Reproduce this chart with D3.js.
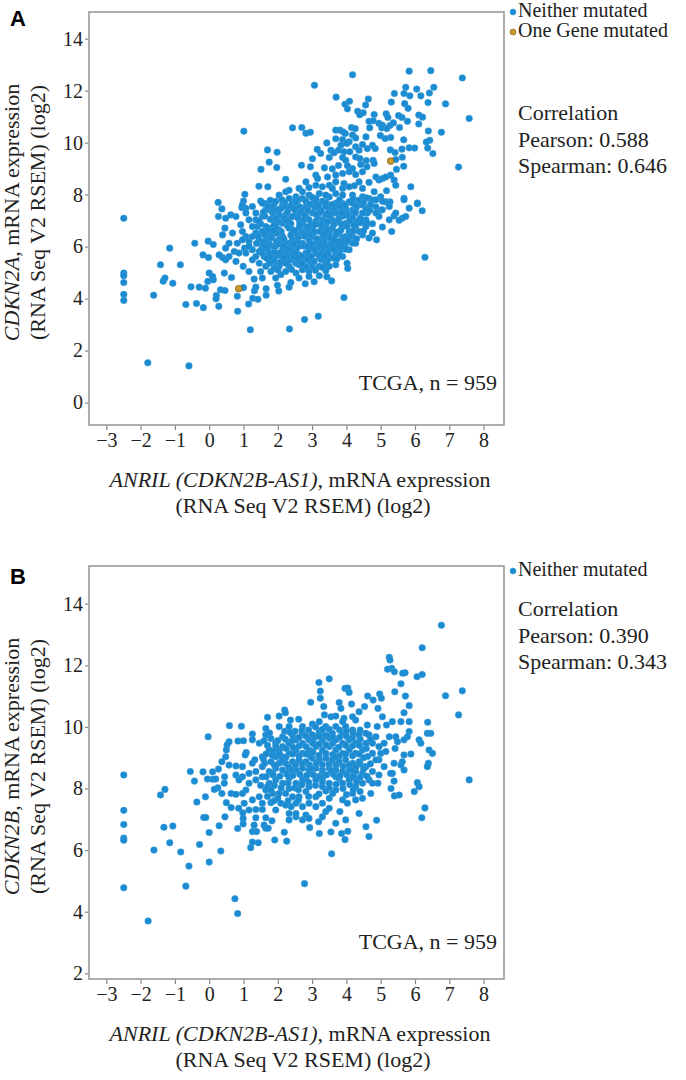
<!DOCTYPE html>
<html>
<head>
<meta charset="utf-8">
<script src="https://cdn.jsdelivr.net/npm/d3@7"></script>
<style>
  body { margin: 0; background: #fff; }
  svg { display: block; }
  .axis text { font-family: "Liberation Serif", Tinos, "Times New Roman", Times, "DejaVu Serif", serif; font-size: 20px; fill: #222; }
  .axis line { stroke: #888; stroke-width: 1.2; }
  .lbl { font-family: "Liberation Serif", Tinos, "Times New Roman", Times, "DejaVu Serif", serif; font-size: 22px; fill: #222; }
  .legend-lbl { font-size: 20px; }
  .panel-letter { font-family: "Liberation Sans", Arial, sans-serif; font-weight: bold; font-size: 22px; fill: #000; }
</style>
</head>
<body>
<div id="chart"></div>
<script>
// tick values
var xTicks = [-3, -2, -1, 0, 1, 2, 3, 4, 5, 6, 7, 8];
var yTicksA = [0, 2, 4, 6, 8, 10, 12, 14];
var yTicksB = [2, 4, 6, 8, 10, 12, 14];

// panel A: ANRIL (x) vs CDKN2A (y)
var neitherA = [
  [5.83,12.75],[6.46,12.77],[4.18,12.61],[7.38,12.49],[3.07,12.21],[5.73,12.13],[6.05,12.06],[6.55,12.13],[5.40,11.89],[5.68,11.89],
  [5.85,11.80],[6.17,11.80],[6.42,11.91],[3.70,11.75],[4.64,11.68],[5.31,11.56],[5.70,11.50],[6.38,11.54],[6.89,11.49],[3.96,11.48],
  [4.09,11.59],[4.56,11.45],[4.03,11.30],[5.80,11.32],[4.33,11.21],[4.39,11.07],[4.49,11.15],[5.16,11.11],[4.81,11.08],[5.21,10.97],
  [5.52,11.04],[5.62,10.97],[6.11,11.06],[6.22,10.98],[7.58,10.93],[4.66,10.82],[4.78,10.84],[4.95,10.74],[5.05,10.67],[5.27,10.66],
  [5.37,10.76],[5.78,10.82],[6.11,10.72],[1.01,10.44],[2.43,10.57],[2.70,10.58],[2.82,10.36],[2.95,10.40],[3.69,10.48],[3.81,10.48],
  [4.15,10.58],[4.26,10.54],[3.91,10.41],[3.97,10.35],[4.18,10.29],[4.27,10.18],[4.57,10.22],[4.68,10.57],[5.03,10.57],[5.18,10.54],
  [4.99,10.27],[5.13,10.16],[5.29,10.20],[5.55,10.58],[6.39,10.45],[6.77,10.40],[3.69,10.15],[3.89,10.12],[4.08,10.03],[3.43,9.99],
  [5.67,10.11],[6.43,10.09],[6.33,10.02],[3.84,9.90],[4.01,9.97],[4.27,9.84],[4.47,9.93],[4.76,9.90],[4.84,9.77],[4.61,9.77],
  [3.15,9.74],[3.25,9.58],[3.55,9.71],[3.77,9.71],[3.64,9.61],[3.93,9.65],[4.10,9.65],[4.37,9.71],[5.28,9.72],[5.42,9.62],
  [5.62,9.75],[5.83,9.80],[5.99,9.79],[6.37,9.79],[6.52,9.58],[1.70,9.72],[1.98,9.63],[3.01,9.38],[3.50,9.43],[3.89,9.43],
  [3.98,9.32],[4.27,9.45],[4.39,9.39],[4.58,9.31],[4.78,9.32],[5.63,9.44],[5.44,9.35],[1.75,9.25],[1.97,9.04],[1.51,8.97],
  [2.69,9.13],[2.95,9.07],[3.36,9.03],[3.59,8.99],[3.77,9.12],[4.03,9.11],[4.18,9.00],[4.42,9.16],[4.60,9.07],[4.81,9.20],
  [5.46,8.97],[5.67,9.09],[7.27,9.06],[2.23,8.59],[3.11,8.75],[3.16,8.62],[3.45,8.68],[3.69,8.75],[3.89,8.81],[4.08,8.88],
  [4.27,8.77],[4.47,8.88],[4.86,8.68],[4.95,8.56],[5.05,8.62],[5.15,8.68],[5.29,8.75],[5.39,8.56],[5.44,8.36],[5.88,8.30],
  [1.45,8.32],[1.71,8.30],[2.04,7.98],[2.23,8.11],[2.33,8.17],[2.62,8.24],[2.91,8.27],[3.30,8.30],[3.50,8.36],[3.69,8.49],
  [3.93,8.43],[4.23,8.34],[4.37,8.49],[4.66,8.47],[4.81,8.11],[5.00,7.92],[5.17,8.15],[5.27,7.72],[5.68,7.86],[6.07,7.68],
  [6.21,7.38],[0.26,7.70],[0.37,7.45],[1.04,8.01],[1.00,7.75],[0.95,7.50],[1.07,7.47],[1.50,7.75],[1.62,7.66],[1.90,7.66],
  [2.14,7.59],[2.43,7.72],[2.72,7.85],[3.11,7.85],[3.30,7.72],[3.50,7.91],[3.89,7.66],[4.08,7.72],[4.37,7.59],[4.76,7.79],
  [5.15,7.72],[2.33,7.47],[2.53,7.59],[2.82,7.53],[3.01,7.66],[3.21,7.47],[3.50,7.53],[3.69,7.47],[3.98,7.47],[4.18,7.40],
  [4.57,7.47],[4.86,7.53],[5.00,7.40],[2.72,8.11],[2.91,7.98],[3.21,8.04],[3.40,7.98],[3.69,8.04],[3.89,7.98],[4.18,7.98],
  [4.47,7.92],[4.66,7.85],[3.59,8.24],[3.89,8.24],[4.08,8.30],[4.47,8.24],[3.11,8.36],[2.82,8.49],[2.53,7.92],[2.33,7.85],
  [-2.49,7.09],[-2.49,4.98],[-2.49,4.88],[-2.49,4.62],[-2.49,4.16],[-2.49,3.93],[-1.62,4.13],[-1.42,5.30],[-1.34,4.67],[-1.29,4.79],
  [-1.06,4.59],[-1.15,5.94],[-0.84,5.30],[-0.68,3.77],[-0.53,4.45],[-0.42,6.13],[-0.37,3.81],[-0.29,4.44],[-0.17,3.65],[-0.18,5.68],
  [-0.11,4.40],[-0.03,6.21],[-0.02,5.58],[0.00,4.98],[0.12,6.08],[0.10,4.85],[0.12,4.72],[-0.04,4.66],[0.21,4.12],[0.20,3.99],
  [0.28,3.70],[0.33,4.34],[0.46,4.31],[0.44,4.98],[0.65,4.81],[0.82,4.09],[0.83,3.51],[1.00,4.42],[1.15,3.79],[1.27,4.01],
  [1.32,4.30],[1.36,4.44],[1.42,3.97],[1.66,4.38],[1.66,4.13],[2.03,4.29],[1.99,4.51],[2.33,4.44],[2.38,4.62],[2.80,4.57],
  [3.06,4.65],[3.43,4.84],[3.57,4.68],[3.40,5.07],[3.93,4.04],[4.02,5.36],[4.04,5.16],[6.29,5.59],[1.31,4.75],[1.55,4.79],
  [1.16,5.04],[0.99,5.24],[0.78,5.43],[0.58,5.62],[0.48,5.49],[0.39,5.58],[0.29,5.68],[0.48,5.94],[0.58,6.13],[0.73,5.81],
  [0.82,6.13],[0.39,6.45],[0.46,6.71],[0.27,7.16],[0.48,7.09],[0.63,7.22],[0.92,6.84],[0.97,6.58],[1.07,6.39],[1.16,6.20],
  [0.87,5.75],[1.03,5.94],[1.26,5.88],[1.36,5.62],[1.46,5.36],[1.65,5.24],[1.80,5.04],[1.89,5.17],[2.09,4.92],[2.23,5.04],
  [2.53,4.98],[2.72,5.11],[2.91,5.04],[3.21,5.24],[3.30,5.56],[3.50,5.62],[3.69,5.75],[3.84,5.88],[3.98,6.13],[4.18,6.39],
  [4.37,6.58],[4.57,6.77],[4.66,6.33],[4.88,6.26],[5.05,6.75],[5.32,6.58],[4.76,6.88],[4.95,7.16],[5.39,7.18],[5.63,7.09],
  [5.54,7.01],[5.73,7.16],[6.07,7.65],[5.25,7.54],[5.68,7.80],[5.05,7.74],[4.86,7.80],[4.47,7.61],[4.27,7.42],[4.08,7.16],
  [4.37,7.03],[4.61,7.29],[3.89,6.77],[3.79,6.52],[3.59,6.26],[3.40,6.01],[3.11,5.75],[2.96,5.43],[2.72,5.49],[2.53,5.36],
  [2.33,5.24],[2.14,5.49],[1.94,5.62],[1.75,5.75],[1.55,6.01],[1.46,6.26],[1.36,6.52],[1.26,6.77],[1.16,7.03],[1.07,7.29],
  [1.26,7.54],[1.55,7.67],[1.75,7.42],[1.55,7.16],[1.85,7.03],[1.65,6.77],[1.85,6.52],[1.75,6.26],[1.94,6.01],[2.14,5.88],
  [2.33,5.75],[2.53,5.88],[2.33,6.13],[2.14,6.39],[2.04,6.65],[2.14,6.90],[2.04,7.22],[2.23,7.54],[2.43,7.67],[2.53,7.29],
  [2.33,7.03],[2.43,6.65],[2.62,6.39],[2.72,6.13],[2.91,5.88],[3.11,6.13],[2.91,6.26],[2.82,6.65],[2.72,6.90],[2.82,7.16],
  [2.72,7.48],[3.01,7.61],[3.21,7.29],[3.11,6.97],[3.21,6.58],[3.30,6.33],[3.50,6.52],[3.40,6.77],[3.59,7.03],[3.50,7.42],
  [3.69,7.67],[3.89,7.42],[3.79,7.09],[3.98,6.90],[4.08,6.58],[3.89,6.33],[3.69,6.07],[3.50,5.88],[3.30,5.94],[3.21,5.62],
  [2.91,5.62],[2.62,5.68],[2.43,5.49],[2.23,5.36],[1.94,5.36],[1.80,5.49],[1.60,5.62],[1.46,5.81],[1.26,5.49],[1.50,5.04],
  [1.94,4.79],[2.62,4.79],[2.91,4.85],[3.21,4.88],[3.69,5.30],[4.47,6.45],[4.27,6.13],[4.08,5.88],[3.89,5.62],[4.76,6.52],
  [4.57,7.03],[4.86,7.29],[5.25,7.03],[5.44,7.29],[5.05,7.42],[5.83,7.48],[4.18,7.67],[3.30,7.74],[2.82,7.74],[1.94,7.74],
  [0.97,7.61],[0.78,7.16],[0.68,6.52],[1.07,5.75],[1.65,7.42],[1.85,7.29],[1.94,7.09],[2.23,7.22],[2.43,7.16],[2.62,7.03],
  [2.91,7.03],[3.01,7.29],[3.30,7.03],[3.40,7.22],[3.69,7.29],[3.98,7.35],[4.18,7.22],[3.59,6.71],[3.30,6.71],[3.01,6.71],
  [2.62,6.71],[2.33,6.71],[1.94,6.77],[1.80,6.71],[1.55,6.58],[1.75,6.45],[2.04,6.26],[2.23,6.13],[2.43,6.26],[2.53,6.52],
  [2.72,6.52],[2.91,6.52],[3.01,6.39],[3.21,6.20],[3.40,6.39],[3.69,6.45],[3.79,6.20],[3.59,6.01],[3.30,5.81],[3.01,6.01],
  [2.82,5.75],[2.62,6.01],[2.43,5.88],[2.23,5.75],[2.04,5.75],[1.85,6.01],[1.65,6.26],[1.55,5.75],[1.75,5.36],[2.04,5.24],
  [2.33,5.49],[2.62,5.30],[2.82,5.24],[3.01,5.24],[3.40,5.36],[3.50,5.24],[4.27,6.77],[4.18,7.09],[4.47,7.29],[3.98,6.39],
  [3.89,6.01],[4.18,6.13],[3.40,7.54],[3.11,7.67],[2.62,7.54],[1.85,7.54],[1.36,7.29],[1.36,7.03],[1.41,6.77],[1.26,6.39],
  [1.16,6.01],[0.97,6.26],[-1.79,1.53],[-0.59,1.41],[1.20,2.80],[2.34,2.83],[2.78,3.19],[3.18,3.32],
  [1.72,7.55],[1.88,7.38],[2.08,7.45],[2.28,7.33],[2.48,7.44],[2.67,7.31],[2.88,7.40],[3.08,7.50],[3.27,7.37],[3.46,7.28],
  [3.62,7.42],[3.82,7.55],[4.02,7.24],[4.28,7.55],[1.62,7.18],[1.78,7.05],[2.02,6.95],[2.18,7.08],[2.38,6.88],[2.58,7.12],
  [2.76,7.04],[2.98,6.86],[3.16,7.14],[3.36,6.92],[3.52,7.16],[3.72,6.95],[3.90,7.18],[4.10,6.98],[4.30,6.92],[1.50,6.88],
  [1.70,6.62],[1.90,6.85],[2.10,6.58],[2.28,6.80],[2.48,6.60],[2.67,6.82],[2.86,6.76],[3.06,6.56],[3.25,6.84],[3.45,6.62],
  [3.64,6.86],[3.84,6.64],[4.02,6.78],[4.20,6.60],[1.42,6.40],[1.60,6.48],[1.82,6.35],[1.98,6.50],[2.18,6.28],[2.38,6.44],
  [2.57,6.30],[2.78,6.40],[2.96,6.45],[3.14,6.30],[3.32,6.48],[3.52,6.32],[3.72,6.56],[3.92,6.22],[4.10,6.40],[1.38,6.12],
  [1.58,6.16],[1.76,6.06],[1.96,6.20],[2.16,6.02],[2.36,6.00],[2.56,6.18],[2.76,6.02],[2.96,6.12],[3.16,5.96],[3.36,6.16],
  [3.56,6.12],[3.76,5.98],[3.98,5.90],[1.52,5.88],[1.70,5.92],[1.90,5.78],[2.10,5.66],[2.30,5.90],[2.50,5.74],[2.70,5.62],
  [2.88,5.76],[3.08,5.88],[3.26,5.70],[3.46,5.74],[3.64,5.88],[3.80,5.70],[1.68,5.55],[1.88,5.48],[2.06,5.38],[2.26,5.62],
  [2.46,5.60],[2.66,5.40],[2.86,5.50],[3.06,5.44],[3.26,5.50],[3.46,5.48],[3.62,5.56],[2.00,5.10],[2.40,5.12],[2.70,5.36],
  [3.10,5.08],[3.30,5.20],[2.20,7.70],[2.60,7.80],[3.00,7.90],[3.40,7.70],[3.80,7.80],[4.20,7.85],[4.50,7.70],[4.70,7.60],
  [4.40,7.10],[4.60,6.90],[4.50,6.60],[4.30,6.30],
  [1.78,7.78],[2.12,7.80],[2.52,7.70],[2.92,7.62],[3.18,7.58],[3.58,7.62],[3.96,7.60],[4.36,7.78],[4.58,7.88],[1.58,7.32],
  [1.98,7.42],[2.38,7.56],[2.78,7.22],[3.12,7.24],[3.56,7.30],[3.86,7.30],[4.26,7.30],[4.68,7.40],[1.44,6.98],[1.88,6.62],
  [2.26,6.98],[2.64,6.86],[3.08,6.84],[3.46,6.96],[3.86,6.86],[4.22,6.82],[4.42,6.92],[1.62,6.02],[2.02,6.10],[2.46,6.08],
  [2.86,6.02],[3.24,6.06],[3.66,6.22],[4.04,6.24],[1.80,5.62],[2.18,5.56],[2.58,5.56],[2.98,5.62],[3.36,5.62],[3.72,5.52]
];
var mutatedA = [[5.29,9.29],[0.86,4.38]];

// panel B: ANRIL (x) vs CDKN2B (y)
var neitherB = [
  [6.77,13.30],[6.21,12.57],[5.25,12.26],[5.27,12.17],[5.20,11.87],[5.32,11.90],[5.40,11.79],[5.71,11.76],[5.64,11.74],[6.06,11.63],
  [6.21,11.70],[3.20,11.44],[3.50,11.56],[3.96,11.25],[4.04,11.26],[4.08,11.12],[5.41,11.14],[5.59,11.40],[6.89,11.01],[7.38,11.17],
  [3.24,11.16],[3.24,10.93],[2.96,10.80],[3.34,10.66],[3.79,10.79],[3.84,10.60],[4.15,10.74],[4.62,11.00],[4.78,10.87],[4.97,11.07],
  [5.02,10.93],[4.92,10.60],[4.53,10.66],[4.37,10.49],[5.72,11.00],[5.83,10.69],[5.68,10.46],[7.27,10.39],[2.20,10.55],[2.22,10.46],
  [2.04,10.35],[1.70,10.31],[2.61,10.25],[2.37,10.22],[3.36,10.39],[3.55,10.33],[3.69,10.35],[3.93,10.28],[4.18,10.33],[4.27,10.22],
  [4.61,10.06],[5.05,10.33],[5.17,10.06],[5.34,10.17],[5.59,10.17],[5.83,10.17],[6.37,10.15],[0.59,10.04],[0.94,10.02],[-0.03,9.68],
  [1.26,9.77],[1.65,9.95],[2.04,10.01],[2.33,10.01],[2.72,10.01],[3.01,10.09],[3.21,10.17],[1.65,9.74],[1.26,9.58],[0.84,9.54],
  [1.00,9.55],[0.58,9.52],[0.52,9.41],[0.50,9.25],[0.48,9.03],[0.37,8.87],[0.58,8.76],[0.78,8.73],[0.97,8.71],[1.08,9.17],
  [1.05,9.09],[1.33,8.93],[1.26,8.82],[1.46,9.47],[-0.55,8.55],[-0.18,8.54],[0.10,8.54],[0.27,8.63],[-2.49,8.44],[7.58,8.28],
  [6.36,9.79],[6.46,9.79],[6.12,9.58],[6.17,9.47],[5.83,9.85],[5.78,9.68],[5.68,9.58],[5.44,9.68],[5.49,9.52],[5.25,9.68],
  [5.10,9.47],[5.15,9.20],[5.42,9.30],[5.68,9.09],[5.88,9.12],[6.41,9.25],[6.51,9.14],[6.39,8.82],[6.36,8.71],[5.63,8.87],
  [5.59,8.76],[5.39,8.82],[5.10,8.71],[5.29,8.49],[5.68,8.60],[4.95,8.93],[4.76,9.14],[4.57,9.47],[4.37,9.74],[4.66,9.74],
  [4.86,9.68],[4.90,10.01],[4.18,9.90],[3.89,9.79],[3.59,9.79],[3.30,9.79],[3.01,9.74],[2.72,9.79],[2.43,9.74],[2.14,9.68],
  [1.94,9.47],[1.75,9.25],[1.55,9.03],[1.80,8.87],[1.55,8.71],[1.85,8.49],[1.94,9.36],[2.14,9.36],[2.33,9.47],[2.53,9.58],
  [2.72,9.47],[2.91,9.58],[3.11,9.68],[3.30,9.58],[3.50,9.63],[3.69,9.58],[3.89,9.47],[4.08,9.58],[4.27,9.47],[4.47,9.25],
  [4.27,9.14],[4.08,9.25],[3.89,9.14],[3.69,9.25],[3.50,9.36],[3.30,9.25],[3.11,9.36],[2.91,9.25],[2.72,9.14],[2.53,9.25],
  [2.33,9.14],[2.14,9.03],[1.94,9.03],[2.04,8.82],[2.23,8.82],[2.43,8.87],[2.62,8.93],[2.82,8.87],[3.01,8.98],[3.21,8.93],
  [3.40,8.98],[3.59,8.93],[3.79,8.87],[3.98,8.93],[4.18,8.82],[4.37,8.87],[4.57,8.71],[4.76,8.55],[4.47,8.49],[4.27,8.55],
  [4.08,8.60],[3.89,8.55],[3.69,8.60],[3.50,8.66],[3.30,8.60],[3.11,8.66],[2.91,8.60],[2.72,8.66],[2.53,8.60],[2.33,8.55],
  [2.14,8.60],[1.94,8.66],[1.75,8.55],[1.36,8.55],[1.16,8.49],[0.97,8.38],[0.78,8.44],[2.33,8.33],[2.82,8.33],[3.30,8.33],
  [3.79,8.33],[4.27,8.30],[3.21,9.85],[3.40,10.01],[3.69,10.01],[3.98,10.01],[3.89,10.17],[4.57,9.79],[4.76,9.47],[4.95,9.36],
  [4.86,8.93],[5.00,9.14],[-2.49,7.29],[-2.49,6.83],[-2.49,6.39],[-2.49,6.32],[-2.49,4.78],[-1.78,3.70],[-1.61,6.00],[-1.42,7.79],
  [-1.29,7.97],[-1.32,6.74],[-1.06,6.78],[-1.15,6.24],[-0.83,5.94],[-0.68,4.83],[-0.59,5.48],[-0.43,8.24],[-0.36,7.56],[-0.28,6.18],
  [-0.11,7.73],[-0.16,7.06],[-0.10,7.06],[0.00,6.57],[0.00,5.61],[-0.05,8.31],[0.10,8.30],[0.19,8.31],[0.25,8.02],[0.15,7.97],
  [0.29,6.79],[0.34,5.97],[0.37,7.84],[0.44,8.17],[0.45,8.38],[0.50,7.54],[0.46,7.08],[0.64,7.38],[0.75,4.42],[0.83,3.94],
  [0.83,6.70],[0.86,7.36],[0.99,6.85],[0.99,7.03],[0.98,7.21],[0.64,7.84],[0.78,7.81],[0.97,7.84],[0.87,8.28],[1.02,7.52],
  [1.21,6.08],[1.26,6.26],[1.43,6.24],[1.26,6.60],[1.38,6.60],[1.31,6.81],[1.36,7.05],[1.16,7.30],[1.36,7.32],[1.60,6.81],
  [1.65,6.71],[1.72,6.71],[1.65,7.05],[1.83,6.95],[1.91,6.33],[2.19,6.58],[2.26,6.29],[1.55,7.32],[1.55,7.52],[1.80,7.54],
  [1.89,7.60],[2.09,7.52],[2.23,7.46],[2.39,7.41],[2.33,7.19],[2.53,7.08],[2.72,6.98],[2.93,6.73],[3.19,6.92],[2.82,7.14],
  [2.91,7.03],[3.30,7.08],[3.40,7.25],[3.50,7.36],[3.81,7.25],[3.55,6.59],[3.57,5.88],[3.86,6.54],[3.96,6.34],[4.04,6.61],
  [2.78,4.91],[4.37,7.19],[4.57,6.76],[4.66,6.44],[4.88,6.97],[4.03,7.52],[4.27,7.63],[4.47,7.68],[4.18,7.84],[4.71,7.84],
  [4.76,8.17],[4.92,8.17],[4.66,8.28],[4.95,8.44],[5.30,8.00],[5.40,7.76],[5.54,7.79],[5.39,8.24],[5.34,8.49],[5.98,7.90],
  [6.07,8.19],[6.12,8.06],[6.29,7.37],[6.20,7.05],[3.50,7.68],[3.30,7.52],[3.11,7.41],[2.91,7.52],[2.72,7.41],[2.53,7.52],
  [2.62,7.73],[2.43,7.73],[2.23,7.84],[2.04,7.84],[1.85,7.84],[1.65,7.95],[1.46,7.73],[1.26,7.63],[1.07,7.95],[1.16,8.17],
  [1.36,8.28],[1.55,8.38],[1.75,8.17],[1.94,8.28],[2.14,8.17],[2.33,8.38],[2.53,8.17],[2.72,8.28],[2.91,8.06],[3.11,8.28],
  [3.30,8.06],[3.50,8.17],[3.69,7.95],[3.89,8.17],[4.08,8.28],[4.27,8.06],[4.47,8.17],[3.69,8.38],[3.30,8.49],[2.91,8.49],
  [3.89,7.63],[3.11,7.73],[2.82,7.90],[2.33,8.00],[3.98,6.98],[3.69,6.87],[3.21,6.54],[2.53,7.19],[1.94,7.30],[2.33,6.98],
  [1.60,9.55],[1.80,9.62],[2.00,9.56],[2.22,9.60],[2.42,9.55],[2.62,9.66],[2.82,9.70],[3.02,9.55],[3.20,9.70],[3.42,9.72],
  [3.60,9.68],[3.80,9.66],[4.00,9.70],[4.18,9.64],[4.40,9.60],[1.70,9.40],[1.86,9.20],[2.04,9.22],[2.24,9.30],[2.44,9.34],
  [2.62,9.38],[2.82,9.36],[3.02,9.46],[3.20,9.44],[3.40,9.42],[3.60,9.46],[3.78,9.34],[3.98,9.40],[4.18,9.38],[4.38,9.40],
  [4.58,9.30],[1.66,9.12],[1.84,9.08],[2.04,9.12],[2.24,9.02],[2.44,9.12],[2.62,9.06],[2.82,9.12],[3.02,9.18],[3.20,9.08],
  [3.40,9.14],[3.60,9.10],[3.80,9.06],[3.98,9.12],[4.18,9.06],[4.38,9.12],[4.62,9.04],[1.62,8.82],[1.90,8.76],[2.12,8.92],
  [2.32,8.70],[2.52,8.78],[2.72,8.80],[2.92,8.76],[3.12,8.82],[3.30,8.78],[3.50,8.80],[3.70,8.76],[3.90,8.72],[4.08,8.76],
  [4.28,8.70],[4.50,8.64],[4.70,8.80],[1.66,8.38],[1.86,8.44],[2.06,8.40],[2.26,8.46],[2.44,8.42],[2.64,8.46],[2.84,8.42],
  [3.04,8.44],[3.22,8.40],[3.42,8.44],[3.62,8.46],[3.82,8.42],[4.02,8.44],[4.20,8.40],[4.40,8.36],[4.60,8.40],[1.50,8.10],
  [1.70,8.06],[1.90,8.10],[2.10,8.02],[2.30,8.18],[2.50,8.02],[2.70,8.12],[2.90,8.20],[3.10,8.10],[3.30,8.22],[3.50,8.02],
  [3.70,8.14],[3.90,8.00],[4.10,8.12],[4.30,8.22],[1.70,7.74],[2.00,7.68],[2.30,7.60],[2.60,7.62],[2.90,7.74],[3.20,7.82],
  [3.60,7.84],[4.00,7.80],[4.40,7.90],[2.50,9.86],[2.90,9.90],[3.50,9.92],[4.00,9.86],[4.40,9.90],[3.10,10.00],[2.20,9.86],
  [4.70,9.60],[1.76,9.80],[2.36,9.82],[2.70,9.88],[3.30,9.92],[3.80,9.90],[4.20,9.80],[1.58,8.96],[2.96,9.04],[3.68,9.02],
  [4.50,9.00],[4.40,8.80],[2.40,8.62],[3.00,8.64],[3.56,8.58],[4.14,8.60],[1.80,7.96],[2.60,7.96],[3.40,7.92],[4.20,7.96]
];

var W = 686, H = 1080;
var box = { left: 89, width: 415, height: 413 };

var svg = d3.select("#chart").append("svg")
  .attr("width", W)
  .attr("height", H);

function drawPanel(p) {
  var g = svg.append("g")
    .attr("transform", "translate(" + box.left + "," + p.top + ")");

  var x = d3.scaleLinear().domain([-3.504, 8.595]).range([0, box.width]);
  var y = d3.scaleLinear().domain(p.yDomain).range([box.height, 0]);

  // axes (ticks only, the frame is drawn as a rect)
  var xAxis = d3.axisBottom(x).tickValues(xTicks).tickSize(5).tickPadding(3).tickSizeOuter(0);
  var yAxis = d3.axisLeft(y).tickValues(p.yTicks).tickSize(4).tickPadding(2).tickSizeOuter(0);

  g.append("g").attr("class", "axis")
    .attr("transform", "translate(0," + box.height + ")")
    .call(xAxis)
    .call(function(s) { s.select(".domain").remove(); });

  g.append("g").attr("class", "axis")
    .call(yAxis)
    .call(function(s) { s.select(".domain").remove(); });

  g.append("rect")
    .attr("width", box.width)
    .attr("height", box.height)
    .attr("fill", "none")
    .attr("stroke", "#9a9a9a")
    .attr("stroke-width", 1.6);

  g.selectAll("circle.neither")
    .data(p.neither)
    .enter().append("circle")
    .attr("class", "neither")
    .attr("cx", function(d) { return x(d[0]); })
    .attr("cy", function(d) { return y(d[1]); })
    .attr("r", 3.3)
    .attr("fill", "#1b8cd2")
    .attr("stroke", "#3d9bd8")
    .attr("stroke-width", 0.5);

  g.selectAll("circle.mutated")
    .data(p.mutated)
    .enter().append("circle")
    .attr("class", "mutated")
    .attr("cx", function(d) { return x(d[0]); })
    .attr("cy", function(d) { return y(d[1]); })
    .attr("r", 3.3)
    .attr("fill", "#c99a2e")
    .attr("stroke", "#7d5f12")
    .attr("stroke-width", 0.8);

  g.append("text").attr("class", "lbl")
    .attr("x", box.width - 7)
    .attr("y", p.tcgaY)
    .attr("text-anchor", "end")
    .text("TCGA, n = 959");

  // x title
  var xt = g.append("text").attr("class", "lbl")
    .attr("x", 211)
    .attr("y", box.height + 62)
    .attr("text-anchor", "middle");
  xt.append("tspan").attr("font-style", "italic").text("ANRIL (CDKN2B-AS1)");
  xt.append("tspan").text(", mRNA expression");
  g.append("text").attr("class", "lbl")
    .attr("x", 214)
    .attr("y", box.height + 88)
    .attr("text-anchor", "middle")
    .text("(RNA Seq V2 RSEM) (log2)");

  // y title
  var cy = box.height / 2 - 6;
  var yt = g.append("text").attr("class", "lbl")
    .attr("transform", "translate(" + (19 - box.left) + "," + cy + ") rotate(-90)")
    .attr("text-anchor", "middle");
  yt.append("tspan").attr("font-style", "italic").text(p.gene);
  yt.append("tspan").text(", mRNA expression");
  g.append("text").attr("class", "lbl")
    .attr("transform", "translate(" + (45 - box.left) + "," + cy + ") rotate(-90)")
    .attr("text-anchor", "middle")
    .text("(RNA Seq V2 RSEM) (log2)");

  svg.append("text").attr("class", "panel-letter")
    .attr("x", 10)
    .attr("y", p.top + p.letterDy)
    .text(p.letter);

  // legend + correlation
  var lg = svg.append("g").attr("transform", "translate(513," + p.top + ")");
  p.legend.forEach(function(item) {
    lg.append("circle")
      .attr("cx", 0)
      .attr("cy", item.dy - 5)
      .attr("r", 3)
      .attr("fill", item.fill)
      .attr("stroke", item.stroke)
      .attr("stroke-width", 0.6);
    lg.append("text").attr("class", "lbl legend-lbl")
      .attr("x", 5)
      .attr("y", item.dy)
      .text(item.label);
  });
  p.stats.forEach(function(s, i) {
    lg.append("text").attr("class", "lbl")
      .attr("x", 5)
      .attr("y", p.statsDy + i * 26.5)
      .text(s);
  });
}

drawPanel({
  top: 12,
  letter: "A",
  letterDy: 14,
  gene: "CDKN2A",
  yDomain: [-0.865, 15.027],
  yTicks: yTicksA,
  neither: neitherA,
  mutated: mutatedA,
  tcgaY: 378,
  legend: [
    { label: "Neither mutated", dy: 5, fill: "#1b8cd2", stroke: "#3d9bd8" },
    { label: "One Gene mutated", dy: 25, fill: "#c99a2e", stroke: "#7d5f12" }
  ],
  stats: ["Correlation", "Pearson: 0.588", "Spearman: 0.646"],
  statsDy: 108
});

drawPanel({
  top: 566,
  letter: "B",
  letterDy: 18,
  gene: "CDKN2B",
  yDomain: [1.815, 15.224],
  yTicks: yTicksB,
  neither: neitherB,
  mutated: [],
  tcgaY: 383,
  legend: [
    { label: "Neither mutated", dy: 10, fill: "#1b8cd2", stroke: "#3d9bd8" }
  ],
  stats: ["Correlation", "Pearson: 0.390", "Spearman: 0.343"],
  statsDy: 50
});
</script>
</body>
</html>
